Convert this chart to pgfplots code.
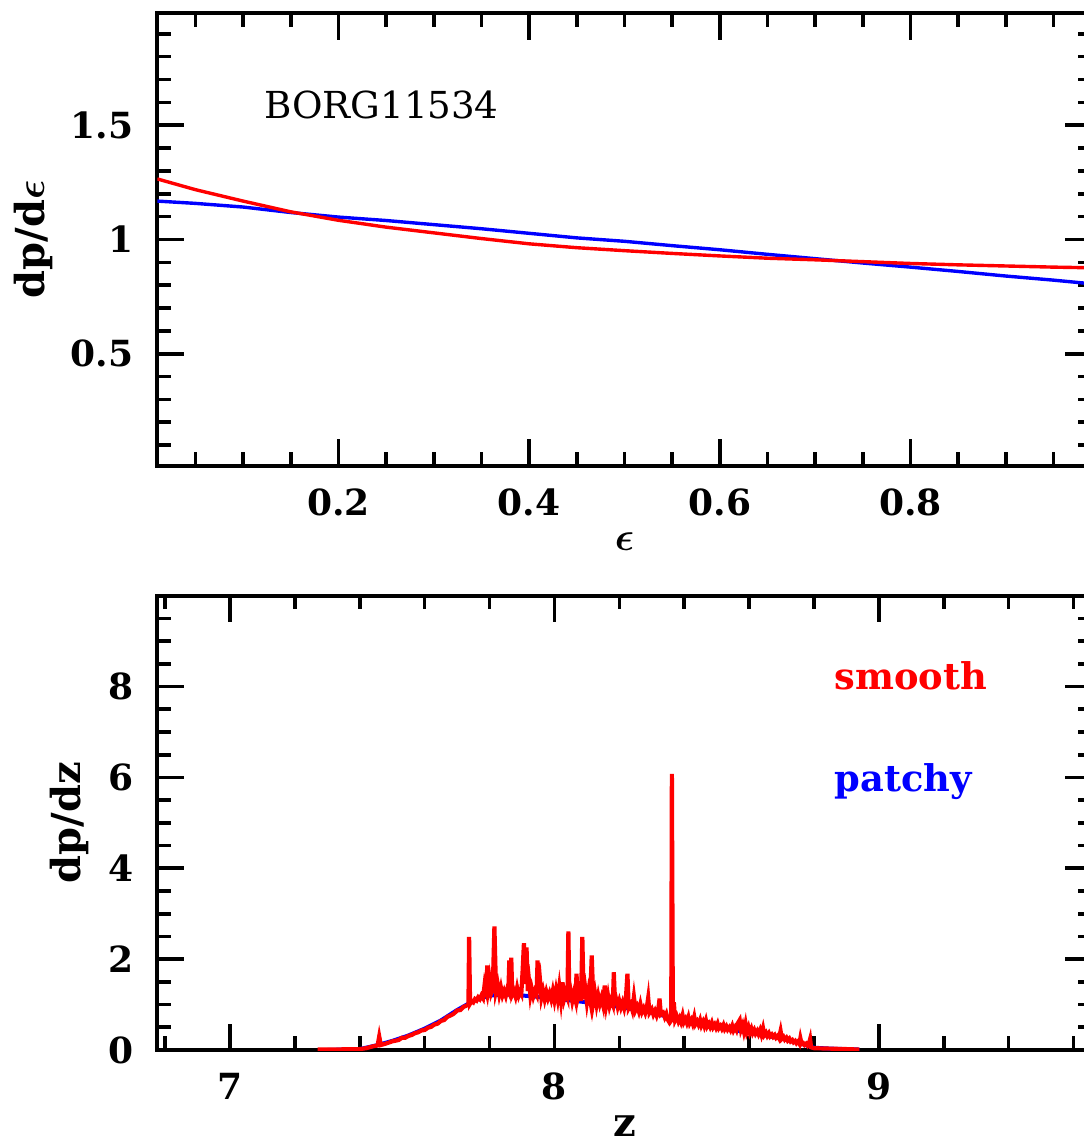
\documentclass[border=0pt]{standalone}
\usepackage{fontspec}
\setmainfont{DejaVu Serif}
\usepackage{pgfplots}
\pgfplotsset{compat=1.18}
\definecolor{pred}{RGB}{255,0,0}
\definecolor{pblue}{RGB}{0,0,255}
\newcommand\tickfont{\fontsize{9}{10}\selectfont\bfseries}
\newcommand\labfont{\fontsize{10}{12}\selectfont\bfseries}
\newcommand\borgfont{\fontsize{9.3}{11}\selectfont}
\newcommand\legfont{\fontsize{9.2}{11}\selectfont\bfseries}
\newcommand\beps{\mbox{\boldmath$\epsilon$}}
\pgfplotsset{
  myaxis/.style={
    scale only axis,
    width=233.6pt,
    axis line style={line width=1pt},
    major tick style={line width=0.9pt, black},
    minor tick style={line width=0.9pt, black},
    tick align=inside,
    xtick pos=both, ytick pos=both,
    major tick length=6.6pt,
    minor tick length=3.4pt,
    tick label style={font=\tickfont},
    /pgf/number format/assume math mode=true,
    xticklabel style={inner sep=0pt, anchor=north, yshift=-5.5pt},
    yticklabel style={inner sep=0pt, anchor=east, xshift=-5.8pt},
    label style={font=\labfont},
    x label style={at={(axis description cs:0.5,-0.168)}, anchor=center, inner sep=0pt},
  }
}
\begin{document}
\begin{tikzpicture}
\begin{axis}[myaxis,
  at={(39.325pt,169.075pt)}, anchor=south west,
  height=113.1pt,
  xmin=0.01, xmax=0.99, ymin=0.01, ymax=1.99,
  xtick={0.2,0.4,0.6,0.8},
  minor xtick={0.05,0.1,0.15,0.25,0.3,0.35,0.45,0.5,0.55,0.65,0.7,0.75,0.85,0.9,0.95},
  ytick={0.5,1,1.5},
  minor ytick={0.1,0.2,0.3,0.4,0.6,0.7,0.8,0.9,1.1,1.2,1.3,1.4,1.6,1.7,1.8,1.9},
  xlabel={\beps},
  ylabel={dp/d\beps},
  y label style={at={(axis description cs:-0.1327,0.5)}, anchor=center, inner sep=0pt},
]
\addplot[pblue, line width=0.85pt] coordinates {
(0.01,1.168) (0.05,1.158) (0.10,1.142) (0.15,1.118) (0.20,1.098) (0.25,1.083)
(0.30,1.065) (0.35,1.047) (0.40,1.027) (0.45,1.007) (0.50,0.992) (0.55,0.973)
(0.60,0.955) (0.65,0.935) (0.70,0.916) (0.75,0.897) (0.80,0.879) (0.85,0.860)
(0.90,0.840) (0.95,0.822) (0.99,0.806)
};
\addplot[pred, line width=0.85pt] coordinates {
(0.01,1.265) (0.05,1.218) (0.10,1.168) (0.15,1.121) (0.20,1.084) (0.25,1.054)
(0.30,1.029) (0.35,1.004) (0.40,0.981) (0.45,0.964) (0.50,0.951) (0.55,0.939)
(0.60,0.928) (0.65,0.918) (0.70,0.911) (0.75,0.903) (0.80,0.895) (0.85,0.889)
(0.90,0.884) (0.95,0.879) (0.99,0.876)
};
\end{axis}
\begin{axis}[myaxis,
  at={(39.325pt,23pt)}, anchor=south west,
  height=113.575pt,
  xmin=6.776, xmax=9.656, ymin=0, ymax=10,
  xtick={7,8,9},
  minor xtick={6.8,7.2,7.4,7.6,7.8,8.2,8.4,8.6,8.8,9.2,9.4,9.6},
  ytick={0,2,4,6,8},
  minor ytick={0.5,1,1.5,2.5,3,3.5,4.5,5,5.5,6.5,7,7.5,8.5,9,9.5},
  xlabel={z},
  ylabel={dp/dz},
  y label style={at={(axis description cs:-0.0943,0.5)}, anchor=center, inner sep=0pt},
]
\addplot[pblue, line width=1pt] coordinates {
(7.30,0.00) (7.40,0.02) (7.45,0.10) (7.50,0.20) (7.55,0.32) (7.60,0.47) (7.65,0.65)
(7.70,0.88) (7.75,1.08) (7.80,1.20) (7.85,1.22) (7.90,1.20) (7.95,1.17) (8.00,1.13)
(8.05,1.09) (8.10,1.05) (8.15,1.00) (8.20,0.95) (8.25,0.89) (8.30,0.82) (8.35,0.73)
(8.40,0.65) (8.45,0.58) (8.50,0.51) (8.55,0.44) (8.60,0.38) (8.65,0.32) (8.70,0.25)
(8.75,0.16) (8.80,0.05) (8.85,0.03) (8.94,0.01)
};
\addplot[pred, line width=1.05pt] coordinates {
(7.27,0.01) (7.30,0.01) (7.35,0.015) (7.40,0.02) (7.42,0.04) (7.44,0.08) (7.455,0.10)
(7.46,0.30) (7.465,0.11) (7.48,0.14) (7.50,0.19) (7.52,0.22) (7.53,0.27) (7.54,0.27)
(7.55,0.31) (7.56,0.33) (7.57,0.37) (7.58,0.39) (7.59,0.43) (7.60,0.44) (7.61,0.49)
(7.62,0.51) (7.63,0.56) (7.64,0.58) (7.65,0.64) (7.66,0.66) (7.67,0.73) (7.68,0.76)
(7.69,0.80) (7.70,0.87) (7.71,0.88) (7.72,0.95) (7.73,0.98) (7.735,1.00) (7.737,2.49)
(7.740,1.02) (7.745,1.08) (7.75,1.05) (7.755,1.12) (7.76,1.09) (7.765,1.16) (7.77,1.12)
(7.775,1.20) (7.78,1.14) (7.785,1.45) (7.79,1.30) (7.793,1.86) (7.797,1.40) (7.80,1.55)
(7.805,1.25) (7.81,1.35) (7.815,2.72) (7.82,1.30) (7.825,1.45) (7.83,1.22) (7.835,1.38)
(7.84,1.20) (7.845,1.30) (7.85,1.19) (7.855,1.35) (7.858,1.30) (7.861,1.97) (7.864,1.35)
(7.867,2.03) (7.870,1.22) (7.875,1.30) (7.88,1.18) (7.885,1.37) (7.89,1.20) (7.895,1.30)
(7.898,1.25) (7.902,1.75) (7.906,2.35) (7.910,1.45) (7.914,2.26) (7.918,1.30) (7.922,1.50)
(7.926,1.20) (7.93,1.35) (7.935,1.18) (7.94,1.30) (7.945,1.22) (7.948,1.97) (7.952,1.28)
(7.956,1.50) (7.96,1.15) (7.965,1.30) (7.97,1.12) (7.975,1.28) (7.98,1.14) (7.985,1.25)
(7.99,1.12) (7.995,1.30) (8.00,1.10) (8.005,1.32) (8.01,1.12) (8.015,1.40) (8.02,1.10)
(8.025,1.49) (8.03,1.12) (8.035,1.25) (8.04,1.15) (8.043,2.61) (8.046,1.10) (8.05,1.30)
(8.055,1.08) (8.06,1.25) (8.065,1.10) (8.068,1.68) (8.072,1.15) (8.077,1.30) (8.082,1.08)
(8.086,2.49) (8.090,1.12) (8.095,1.35) (8.10,1.05) (8.105,1.30) (8.11,1.10) (8.115,2.08)
(8.12,1.05) (8.125,1.25) (8.13,1.00) (8.135,1.20) (8.14,1.02) (8.145,1.15) (8.15,0.99)
(8.155,1.42) (8.16,1.00) (8.165,1.20) (8.17,0.97) (8.175,1.10) (8.18,1.00) (8.183,1.71)
(8.187,0.98) (8.19,1.12) (8.195,0.95) (8.20,1.08) (8.205,0.94) (8.21,1.05) (8.215,0.92)
(8.22,1.10) (8.225,1.68) (8.229,0.92) (8.235,1.00) (8.24,0.88) (8.245,1.17) (8.25,0.88)
(8.255,0.96) (8.26,0.85) (8.265,1.01) (8.27,0.84) (8.275,0.92) (8.28,0.82) (8.285,0.95)
(8.289,1.15) (8.293,0.82) (8.30,0.90) (8.305,0.78) (8.31,0.86) (8.315,0.76) (8.32,0.88)
(8.324,1.13) (8.328,0.78) (8.335,0.82) (8.34,0.72) (8.345,0.80) (8.35,0.66) (8.355,0.60)
(8.36,0.65) (8.362,6.08) (8.365,0.70) (8.368,1.05) (8.372,0.66)
(8.377,0.74) (8.382,0.63) (8.386,0.70) (8.390,0.62) (8.395,0.76) (8.399,0.61) (8.404,0.68)
(8.408,0.60) (8.413,0.72) (8.417,0.59) (8.422,0.66) (8.426,0.58) (8.431,0.73) (8.435,0.57)
(8.440,0.63) (8.444,0.56) (8.449,0.66) (8.453,0.54) (8.458,0.62) (8.462,0.53) (8.467,0.65)
(8.471,0.52) (8.476,0.58) (8.480,0.51) (8.485,0.60) (8.489,0.50) (8.494,0.56) (8.498,0.49)
(8.503,0.58) (8.507,0.48) (8.512,0.53) (8.516,0.47) (8.521,0.55) (8.525,0.46) (8.530,0.52)
(8.534,0.45) (8.539,0.50) (8.543,0.44) (8.548,0.53) (8.552,0.43) (8.557,0.50) (8.561,0.44)
(8.566,0.60) (8.571,0.66) (8.575,0.45) (8.580,0.55) (8.584,0.41) (8.589,0.58) (8.593,0.40)
(8.598,0.50) (8.602,0.38) (8.607,0.47) (8.611,0.37) (8.616,0.44) (8.620,0.36) (8.625,0.42)
(8.629,0.35) (8.634,0.44) (8.638,0.34) (8.643,0.48) (8.647,0.33) (8.652,0.38) (8.656,0.31)
(8.661,0.37) (8.665,0.30) (8.670,0.34) (8.674,0.29) (8.679,0.33) (8.683,0.27) (8.688,0.31)
(8.692,0.26) (8.697,0.42) (8.701,0.25) (8.706,0.29) (8.710,0.23) (8.715,0.27) (8.719,0.21)
(8.724,0.25) (8.728,0.19) (8.733,0.22) (8.737,0.17) (8.742,0.20) (8.746,0.15) (8.751,0.19)
(8.755,0.14) (8.758,0.26) (8.762,0.13) (8.767,0.15) (8.771,0.11) (8.776,0.14) (8.780,0.10)
(8.785,0.16) (8.788,0.24) (8.791,0.06) (8.80,0.04) (8.85,0.03) (8.90,0.02) (8.94,0.01)
};
\end{axis}
\node[anchor=base west, inner sep=0pt, font=\borgfont] at (65.825pt,255.925pt) {BORG11534};
\node[anchor=base west, inner sep=0pt, text=pred, font=\legfont] at (208.425pt,113.175pt) {smooth};
\node[anchor=base west, inner sep=0pt, text=pblue, font=\legfont] at (208.425pt,87.575pt) {patchy};
\pgfresetboundingbox
\path[use as bounding box] (0,0) rectangle (270.75pt,285.5pt);
\end{tikzpicture}
\end{document}
